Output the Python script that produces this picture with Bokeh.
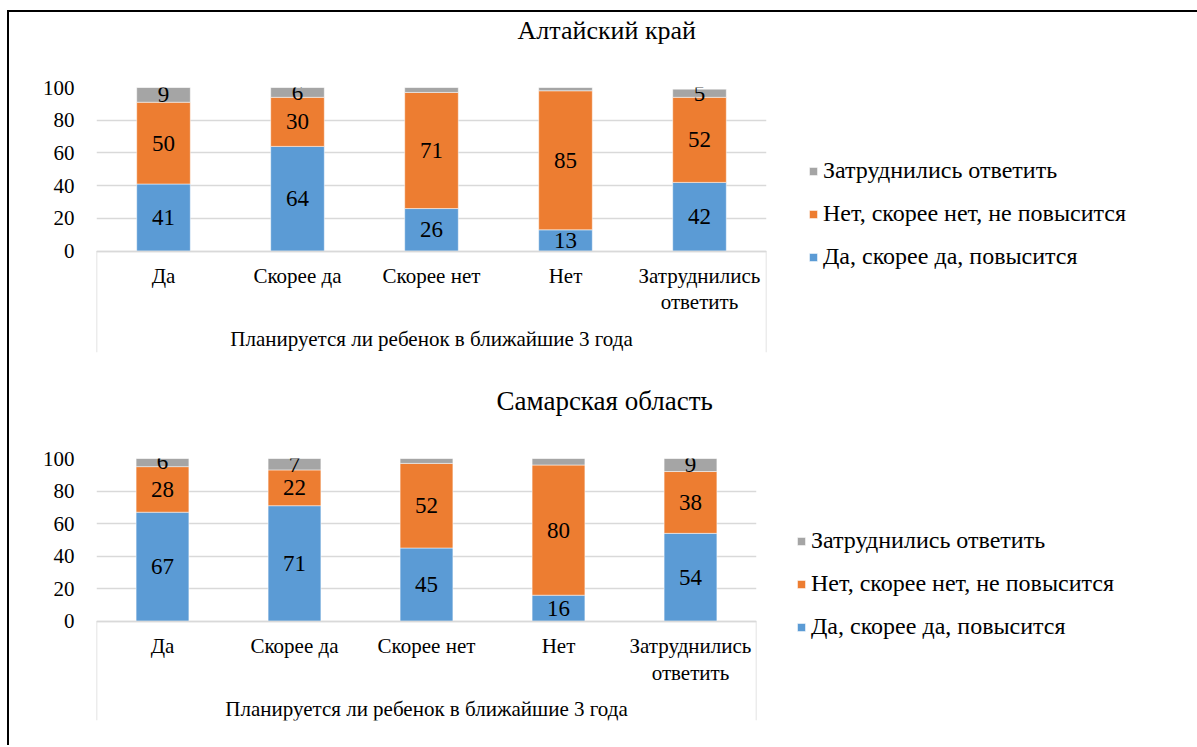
from bokeh.plotting import figure
from bokeh.models import (FactorRange, Range1d, FixedTicker, Legend, LegendItem,
                          ColumnDataSource, Title)
from bokeh.layouts import column
from bokeh.core.properties import value
from bokeh.embed import file_html
from bokeh.resources import INLINE

categories = ["Да", "Скорее да", "Скорее нет", "Нет", "Затруднились\nответить"]
series_names = ["Да, скорее да, повысится", "Нет, скорее нет, не повысится", "Затруднились ответить"]
altai_yes = [41, 64, 26, 13, 42]
altai_no = [50, 30, 71, 85, 52]
altai_hard = [9, 6, 3, 2, 5]
samara_yes = [67, 71, 45, 16, 54]
samara_no = [28, 22, 52, 80, 38]
samara_hard = [6, 7, 3, 4, 9]
y_ticks = [0, 20, 40, 60, 80, 100]
x_title = "Планируется ли ребенок в ближайшие 3 года"

COLORS = ["#5b9bd5", "#ed7d31", "#a5a5a5"]
FONT = "Liberation Serif"
GRID = "#d9d9d9"


def make_chart(title, yes, no, hard, width, height, left, top, frame_w, frame_h,
               ymin, title_offset, title_size, legend_loc):
    keys = ["yes", "no", "hard"]
    src = ColumnDataSource(dict(cat=categories, yes=yes, no=no, hard=hard))
    p = figure(x_range=FactorRange(*categories), y_range=Range1d(ymin, 100),
               width=width, height=height, output_backend="svg", title=None,
               toolbar_location=None, min_border_left=left, min_border_top=top,
               min_border_bottom=height - top - frame_h,
               min_border_right=width - left - frame_w)
    p.frame_width = frame_w
    p.frame_height = frame_h
    p.outline_line_color = None
    p.background_fill_color = "white"
    p.border_fill_color = "white"

    renderers = p.vbar_stack(keys, x="cat", width=0.4, source=src, color=COLORS,
                             line_color="white", line_width=0.5)

    # data labels
    lx, ly, lt = [], [], []
    for i, c in enumerate(categories):
        base = 0
        for vals in (yes, no, hard):
            v = vals[i]
            if v >= 5:
                lx.append(c)
                ly.append(base + v / 2)
                lt.append(str(v))
            base += v
    p.text(x=lx, y=ly, text=lt, text_align="center", text_baseline="middle",
           text_font=value(FONT), text_font_size="23px", text_color="black")

    # bracket of the category axis
    n = len(categories)
    p.segment(x0=[0, n], y0=[0, 0], x1=[0, n], y1=[ymin, ymin],
              line_color=GRID, line_width=1.5)

    # axes
    p.yaxis.ticker = FixedTicker(ticks=y_ticks)
    p.yaxis.axis_line_color = None
    p.yaxis.major_tick_line_color = None
    p.yaxis.minor_tick_line_color = None
    p.yaxis.major_label_standoff = 16
    p.yaxis.major_label_text_font = FONT
    p.yaxis.major_label_text_font_size = "21px"
    p.yaxis.major_label_text_color = "black"

    p.xaxis.fixed_location = 0
    p.xaxis.axis_line_color = GRID
    p.xaxis.axis_line_width = 1.5
    p.xaxis.major_tick_line_color = None
    p.xaxis.minor_tick_line_color = None
    p.xaxis.major_label_standoff = 7
    p.xaxis.major_label_text_font = FONT
    p.xaxis.major_label_text_font_size = "21px"
    p.xaxis.major_label_text_line_height = 1.1
    p.xaxis.major_label_text_color = "black"
    p.xaxis.axis_label = x_title
    p.xaxis.axis_label_text_font = FONT
    p.xaxis.axis_label_text_font_size = "21px"
    p.xaxis.axis_label_text_font_style = "normal"
    p.xaxis.axis_label_text_color = "black"
    p.xaxis.axis_label_standoff = 9

    p.xgrid.grid_line_color = None
    p.ygrid.ticker = FixedTicker(ticks=y_ticks)
    p.ygrid.grid_line_color = GRID
    p.ygrid.grid_line_width = 1.5

    # spacer (closest to the frame) and the chart title above it
    p.add_layout(Title(text=" ", text_font_size="10px", standoff=30), "above")
    p.add_layout(Title(text=title, align="left", offset=title_offset, standoff=0,
                       text_font=FONT, text_font_size=title_size,
                       text_font_style="normal", text_color="black"), "above")

    items = [LegendItem(label=series_names[k], renderers=[renderers[k]]) for k in (2, 1, 0)]
    legend = Legend(items=items, location=legend_loc, orientation="vertical",
                    label_text_font=FONT, label_text_font_size="24px",
                    label_text_color="black", glyph_width=10, glyph_height=10,
                    spacing=16, margin=0, padding=0,
                    border_line_color=None, background_fill_alpha=0)
    p.add_layout(legend, "right")
    return p


p1 = make_chart("Алтайский край", altai_yes, altai_no, altai_hard,
                1188, 358, 87, 75, 670, 265, -62, 421, "26px", (42, 82))
p2 = make_chart("Самарская область", samara_yes, samara_no, samara_hard,
                1188, 375, 82, 88, 660, 262, -61, 400, "27px", (40, 80))

layout = column(p1, p2, spacing=0, margin=(10, 0, 0, 7),
                styles={"border-left": "2px solid black", "border-top": "2px solid black"})
open("out.html", "w").write(file_html(layout, INLINE))
